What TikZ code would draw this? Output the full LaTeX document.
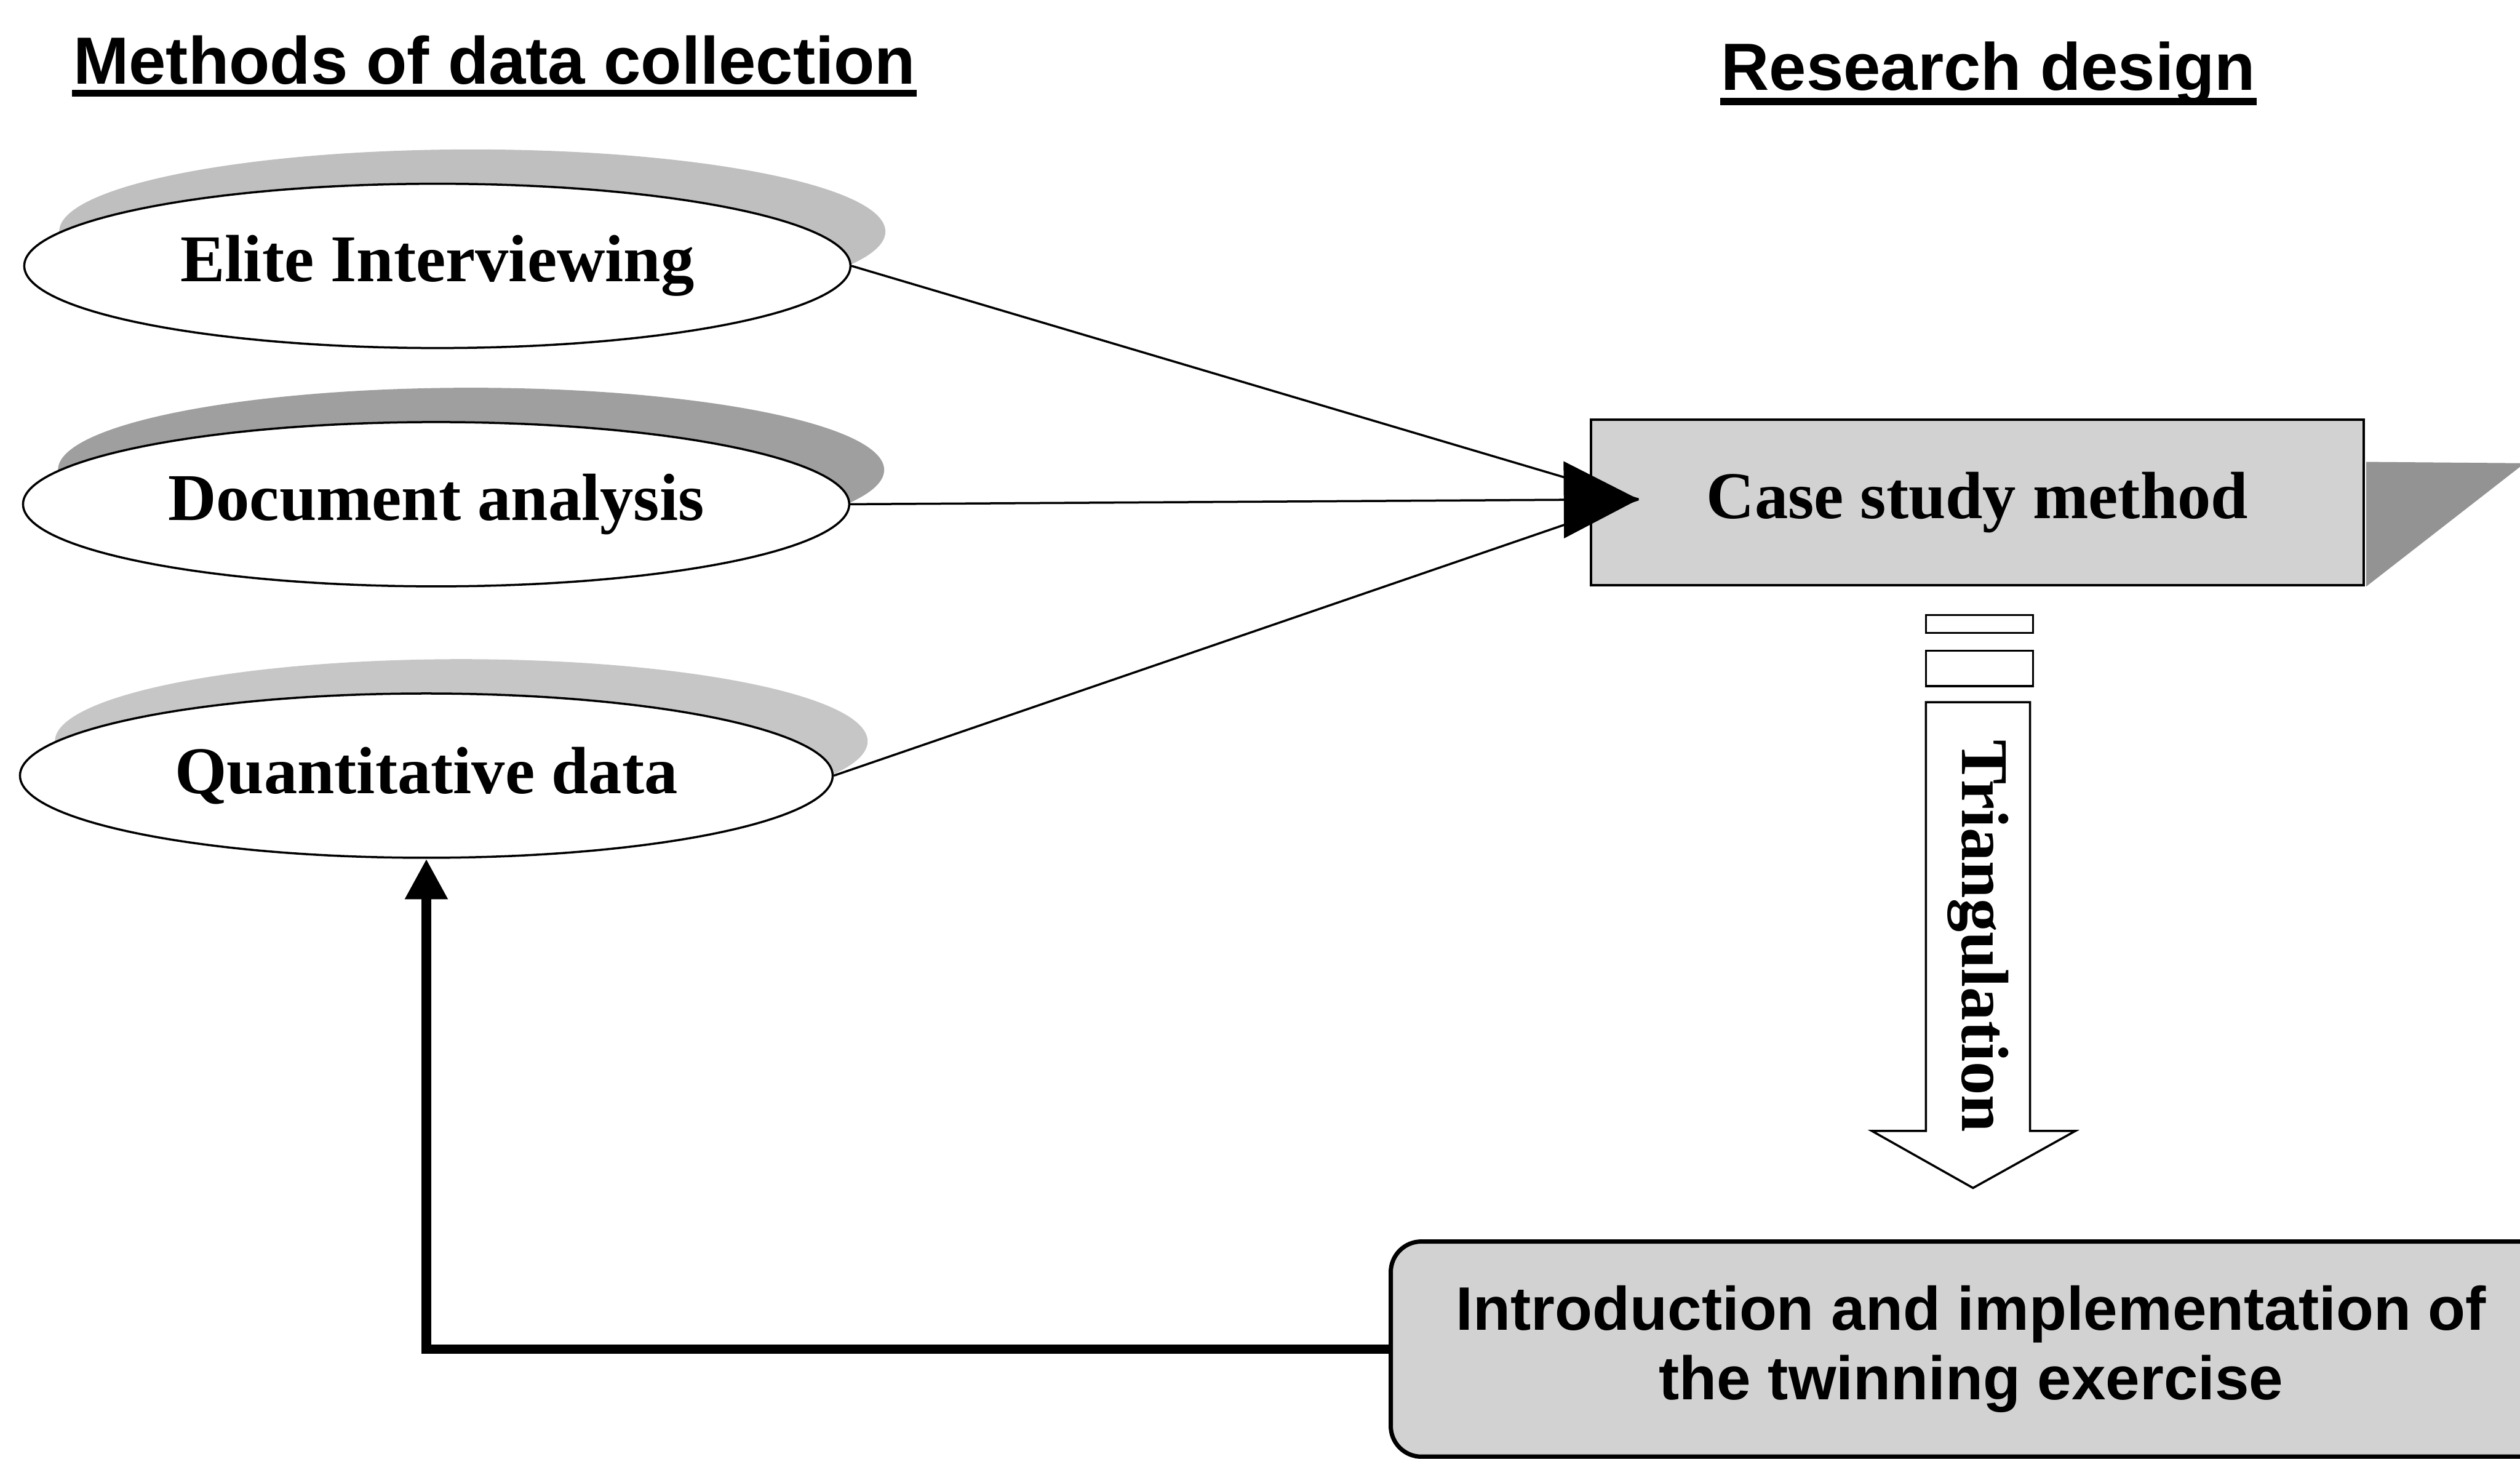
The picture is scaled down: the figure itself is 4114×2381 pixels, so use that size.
\documentclass[tikz,border=0pt]{standalone}
\usepackage{fontspec}
\setmainfont{Liberation Serif}
\newfontfamily\arialfont{Liberation Sans}
\usetikzlibrary{arrows.meta,shapes.geometric,shadows}

\begin{document}
\begin{tikzpicture}[x=0.01cm,y=-0.01cm,line width=1pt,>=Triangle,
  method/.style={ellipse,draw,fill=white,inner sep=0pt,minimum height=2.68cm,
    font=\fontsize{31}{36}\selectfont\bfseries},
  casebox/.style={rectangle,draw,line width=1.2pt,fill=gray!35,
    minimum width=12.61cm,minimum height=2.70cm,
    font=\fontsize{31}{36}\selectfont\bfseries},
  introbox/.style={rectangle,draw,line width=2pt,fill=gray!35,rounded corners=0.5cm,
    minimum width=18.94cm,minimum height=3.51cm,align=center,
    font=\arialfont\fontsize{28.5}{32.2}\selectfont\bfseries},
  heading/.style={inner sep=0pt,font=\arialfont\fontsize{31}{36}\selectfont\bfseries}]
\useasboundingbox (0,0) rectangle (4114,2381);
\clip (0,0) rectangle (4114,2381);
% 标题（带下划线）
\node[heading,anchor=base west] (methods) at (118,137) {Methods of data collection};
\draw[line width=3pt] ([yshift=-0.15cm]methods.base west) -- ([yshift=-0.15cm]methods.base east);
\node[heading,anchor=base west] (design) at (2808,147) {Research design};
\draw[line width=3.5pt] ([yshift=-0.19cm]design.base west) -- ([yshift=-0.19cm]design.base east);
% 三个椭圆（数据收集方法），阴影向右上偏移
\foreach \nm/\cx/\cy/\w/\sh/\lab in {elite/714/434/13.48/50/{Elite Interviewing},
  doc/712/823/13.48/75/{Document analysis},quant/696/1266/13.26/45/{Quantitative data}}{
  \node[method,minimum width=\w cm,
    drop shadow={shadow xshift=0.57cm,shadow yshift=0.56cm,fill=gray!\sh,opacity=1}]
    (\nm) at (\cx,\cy) {\lab};
}
% 案例研究方框及其阴影
\node[casebox] (case) at (3228,820) {Case study method};
\fill[gray!85] ([xshift=0.6pt,yshift=-0.71cm]case.north east) -- (4114,756) -- (4114,762)
  -- ([xshift=0.6pt]case.south east) -- cycle;
% 汇聚连线
\coordinate (tip) at (2675,815);
\draw (elite.east) -- (tip);
\draw (quant.east) -- (tip);
\draw[-{Triangle[length=1.22cm,width=1.25cm]}] (doc.east) -- (tip);
% 三角化箭头
\draw[fill=white] (3144,1004) rectangle (3319,1033);
\draw[fill=white] (3144,1062) rectangle (3319,1120);
\draw[fill=white] (3144,1146) -- (3314,1146) -- (3314,1846) -- (3388,1846)
  -- (3221,1939) -- (3056,1846) -- (3144,1846) -- cycle;
\node[rotate=-90,inner sep=0pt,font=\fontsize{31}{36}\selectfont\bfseries] (tri) at (3229,1528) {Triangulation};
% 底部方框与反馈箭头
\node[introbox] (intro) at (3218,2202) {Introduction and implementation of\\the twinning exercise};
\draw[line width=4.5pt,-{Triangle[length=0.66cm,width=0.66cm]}] (intro.west) -| (quant.south);
\end{tikzpicture}
\end{document}
